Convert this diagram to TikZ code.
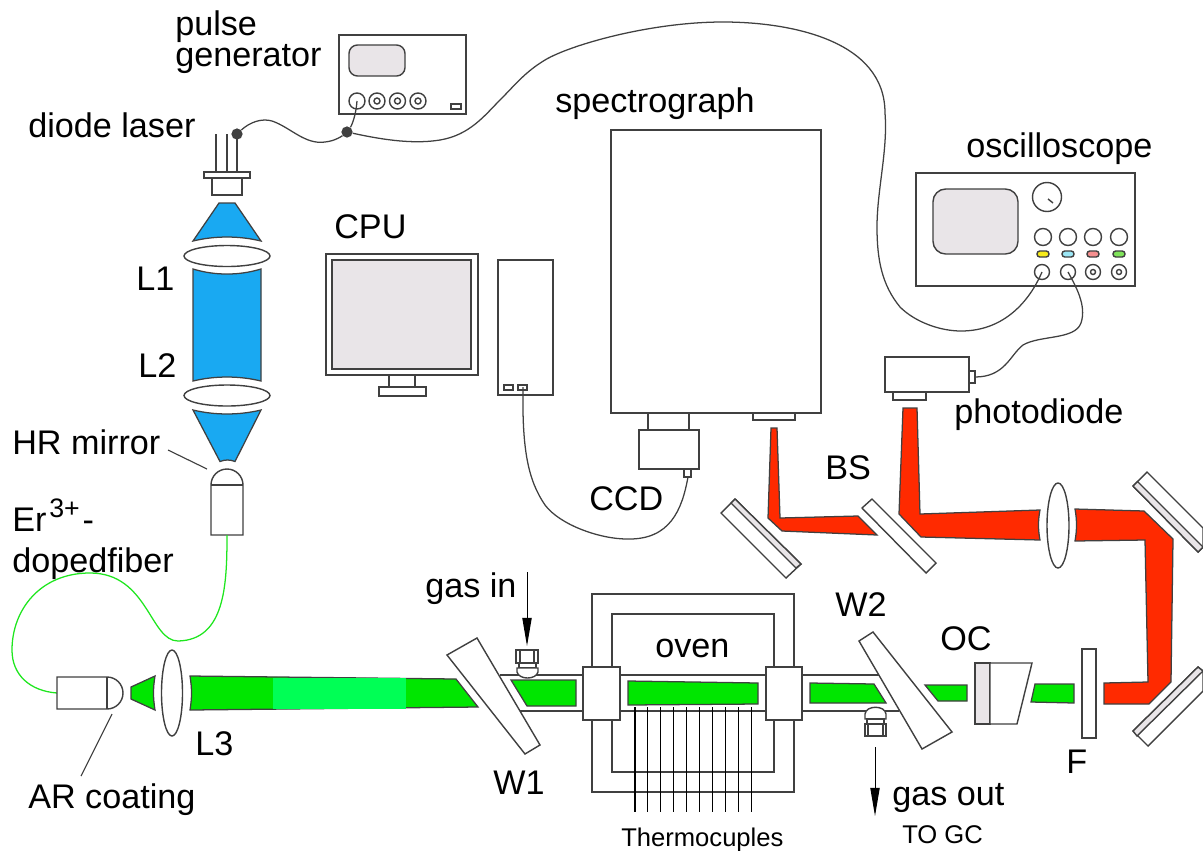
\documentclass[tikz,border=0pt]{standalone}
\usepackage{fontspec}
\setmainfont{Liberation Sans}
\usetikzlibrary{arrows.meta}
\definecolor{cline}{HTML}{404040}
\definecolor{cblue}{HTML}{19A9F2}
\definecolor{cgreen}{HTML}{00E600}
\definecolor{clight}{HTML}{00FF55}
\definecolor{cred}{HTML}{FF2A00}
\definecolor{cfiber}{HTML}{1EE61E}
\definecolor{cscreen}{HTML}{E9E5E8}
\tikzset{
  part/.style={draw=cline, line width=1pt, fill=white},
  screen/.style={part, fill=cscreen, rounded corners=6pt},
  beam/.style={draw=cline, line width=0.9pt, fill=#1},
  beam/.default=cgreen,
  cable/.style={draw=cline, line width=0.9pt},
  fiber/.style={draw=cfiber, line width=0.9pt},
  leader/.style={draw=cline, line width=0.8pt},
  flow/.style={-{Stealth[length=20pt, width=6.6pt, inset=0pt]}, draw=black, line width=0.7pt},
  dot/.style={circle, fill=cline, inner sep=0pt, minimum size=8pt},
  label/.style={font=\fontsize{24.3}{29}\selectfont, inner sep=0pt, anchor=base west, xshift=-0.7pt},
  small/.style={label, font=\fontsize{18.2}{22}\selectfont},
}
\begin{document}
\begin{tikzpicture}[x=0.025cm, y=-0.025cm]
  \useasboundingbox (0,0) rectangle (1203,850);
  % pulse generator
  \draw[part] (339,35) rectangle (466,114);
  \draw[screen] (349,45) rectangle (405,76);
  \draw[part] (357,101) circle [radius=8];
  \foreach \x in {377,397.5,418} {
    \draw[part] (\x,101) circle [radius=8];
    \draw[part] (\x,101) circle [radius=3];
  }
  \draw[part] (451,104) rectangle (461,109);
  % diode laser
  \foreach \x in {216,227,237} \draw[part] (\x,134) -- (\x,172);
  \draw[part] (204,172) rectangle (250,178);
  \draw[part] (212,178) rectangle (242,195);
  \coordinate (pgknob) at (357,101);
  \node[dot] (laserdot) at (237,134) {};
  \node[dot] (pgdot) at (347,132) {};
  \draw[cable] (laserdot) .. controls (250,122) and (262,118) .. (272,121) .. controls (290,127) and (305,145) .. (325,142) .. controls (335,141) and (342,136) .. (pgdot);
  \draw[cable] (pgknob) .. controls (356,115) and (352,125) .. (pgdot);
  % blue beam and lenses
  \draw[beam=cblue] (219,203) -- (235,203) -- (261,241) .. controls (239,235.7) and (215,235.7) .. (193,241) -- cycle;
  \draw[part] (227,256) ellipse [x radius=43, y radius=10.5];
  \draw[beam=cblue] (193,269) .. controls (215,275.7) and (239,275.7) .. (261,269) -- (261,381) .. controls (239,375.7) and (215,375.7) .. (193,381) -- cycle;
  \draw[part] (227,395.5) ellipse [x radius=43, y radius=10.5];
  \draw[beam=cblue] (193,410) .. controls (215,415.3) and (239,415.3) .. (261,410) -- (235,461.5) .. controls (230,459.5) and (225,459.5) .. (220,461.5) -- cycle;
  % HR mirror and fiber
  \draw[leader] (168,450) -- (207,469);
  \draw[part] (211,485) arc [start angle=180, end angle=360, radius=16] -- (243,535) -- (211,535) -- cycle;
  \draw[part] (211,485) -- (243,485);
  \coordinate (hrend) at (227,535);
  \coordinate (arend) at (57,693);
  \draw[fiber] (hrend) .. controls (227,585) and (225,640) .. (178,641) .. controls (150,641) and (148,573) .. (90,573) .. controls (40,573) and (12,610) .. (12,650) .. controls (12,675) and (30,691) .. (arend);
  % AR coated end
  \draw[part] (107,677) arc [start angle=-90, end angle=90, radius=16] -- (57,709) -- (57,677) -- cycle;
  \draw[part] (107,677) -- (107,709);
  \draw[leader] (112,714) -- (81,776);
  \draw[beam] (131,687) -- (155,676) .. controls (153,688) and (153,698) .. (155,710) -- (131,699) -- cycle;
  \draw[part] (172,693) ellipse [x radius=10.5, y radius=43];
  \draw[beam] (190,676) -- (456,679) -- (478,707) -- (190,710) .. controls (192,698) and (192,688) .. (190,676) -- cycle;
  \fill[clight] (273,677.5) rectangle (406,709);
  % tube
  \draw[part] (500,675) -- (583,675);
  \draw[part] (520,711) -- (583,711);
  \draw[part] (620,675) -- (766,675);
  \draw[part] (620,711) -- (766,711);
  \draw[part] (802,675) -- (880,675);
  \draw[part] (802,711) -- (899,711);
  \draw[part] (447,655) -- (477,638) -- (540,745) -- (525,754) -- cycle;
  % gas in
  \draw[part] (519,663) rectangle (536,668);
  \draw[part] (517,668) -- (517,672) .. controls (519,680) and (536,680) .. (538,672) -- (538,668) -- cycle;
  \draw[part] (516,650) rectangle (538,663);
  \draw[part] (520,650) -- (520,663) (534,650) -- (534,663);
  \coordinate (gasinstart) at (527,572);
  \coordinate (gasinend) at (527,646);
  \draw[flow] (gasinstart) -- (gasinend);
  \draw[beam] (511,680) -- (576,680) -- (576,706) -- (527,706) -- cycle;
  % oven
  \draw[part, fill=none] (592,594) rectangle (794,792);
  \draw[part, fill=none] (612,614) rectangle (774,772);
  \draw[part] (583,667) rectangle (620,720);
  \draw[part] (766,667) rectangle (802,720);
  \draw[beam] (628,681) -- (758,683) -- (758,704) -- (628,705) -- cycle;
  \foreach \i in {0,...,9} \draw[black, line width=0.8pt] (635+12.9*\i,707) -- (635+12.9*\i,812);
  % gas out
  \draw[beam] (810,683) -- (874,684) -- (886,703) -- (810,703) -- cycle;
  \draw[part] (859,641) -- (873,632) -- (952,732) -- (922,749) -- cycle;
  \draw[part] (865,719) -- (865,714) .. controls (866,705) and (885,705) .. (886,714) -- (886,719) -- cycle;
  \draw[part] (867,719) rectangle (884,724);
  \draw[part] (865,724) rectangle (886,736);
  \draw[part] (868,724) -- (868,736) (883,724) -- (883,736);
  \coordinate (gasoutstart) at (875,747);
  \coordinate (gasoutend) at (875,816);
  \draw[flow] (gasoutstart) -- (gasoutend);
  % output coupler, filter
  \draw[beam] (925,685) -- (967,685) -- (967,701) -- (938,701) -- cycle;
  \draw[part, fill=cscreen] (975,663) rectangle (990,724);
  \draw[part] (990,663) -- (1032,663) -- (1017,724) -- (990,724) -- cycle;
  \draw[beam] (1035,684) -- (1074,684) -- (1074,703) -- (1031,702) -- cycle;
  \draw[part] (1082,649) rectangle (1096,738);
  % red beam
  \draw[beam=cred] (1104,683) -- (1148,682) -- (1145,540) -- (1075,541) .. controls (1077,530) and (1077,520) .. (1075,509) -- (1144,511) -- (1173,539) -- (1171,682) -- (1149,704) -- (1104,704) -- cycle;
  \draw[part] (1058,525.5) ellipse [x radius=11, y radius=42.5];
  \draw[beam=cred] (903,408) -- (917,408) -- (920,514) -- (1040,510) .. controls (1038,520) and (1038,530) .. (1040,540) -- (921,537) -- (899,514) -- cycle;
  \draw[beam=cred] (771,428) -- (777,428) -- (780,518) -- (858,516) -- (877,535) -- (782,531) -- (768,518) -- cycle;
  % mirrors
  \draw[part] (721,513) -- (735,499) -- (801,564) -- (786,578) -- cycle;
  \draw[part, fill=cscreen] (731,503) -- (735,499) -- (801,564) -- (796,568) -- cycle;
  \draw[part] (862,508) -- (872,499) -- (936,563) -- (926,573) -- cycle;
  \draw[part] (1133,486) -- (1147,472) -- (1203,528) -- (1203,547) -- (1198,552) -- cycle;
  \draw[part, fill=cscreen] (1133,486) -- (1137.5,481.5) -- (1203,547) -- (1198,552) -- cycle;
  \draw[part] (1133,731) -- (1198,667) -- (1203,671) -- (1203,691) -- (1148,746) -- cycle;
  \draw[part, fill=cscreen] (1133,731) -- (1198,667) -- (1203,671) -- (1137,736) -- cycle;
  % CPU
  \draw[part] (389,375) -- (389,387) (415,375) -- (415,387);
  \draw[part] (379,387) rectangle (426,396);
  \draw[part] (326,254) rectangle (478,375);
  \draw[part, fill=cscreen] (332,260) rectangle (471,369);
  \draw[part] (498,260) rectangle (553,395);
  \draw[part] (504,385) rectangle (513,390);
  \draw[part] (518,385) rectangle (527,390);
  % spectrograph
  \draw[part] (611,130) rectangle (821,413);
  \draw[part] (753,413) rectangle (795,420);
  \draw[part] (648,413) -- (648,430) (689,413) -- (689,430);
  \draw[part] (639,430) rectangle (699,469);
  \draw[part] (684,469) rectangle (691,477);
  \coordinate (pcport) at (523,387);
  \coordinate (ccdplug) at (688,477);
  \draw[cable] (pcport) .. controls (522,450) and (528,480) .. (545,505) .. controls (560,525) and (600,539) .. (627,539) .. controls (670,540) and (682,510) .. (ccdplug);
  % oscilloscope
  \draw[part] (916,173) rectangle (1135,286);
  \draw[screen, rounded corners=9pt] (933,189) rectangle (1018,254);
  \draw[part] (1047,197) circle [radius=14.5];
  \draw[part] (1048,199) -- (1053,203);
  \foreach \x/\c in {1043/F7EB1A,1068/9BE6F5,1093/F58F8F,1119/7FE35A} {
    \definecolor{ctag}{HTML}{\c}
    \draw[part] (\x,237) circle [radius=8.5];
    \draw[part, fill=ctag, rounded corners=2pt] (\x-6,251) rectangle (\x+6,257);
  }
  \foreach \x in {1042,1068,1093,1119} \draw[part] (\x,272) circle [radius=7.5];
  \foreach \x in {1093,1119} \draw[part] (\x,272) circle [radius=2.5];
  % photodiode
  \draw[part] (885,357) rectangle (969,392);
  \draw[part] (893,392) rectangle (926,400);
  \draw[part] (969,371) rectangle (975,383);
  % long cables
  \coordinate (scopeA) at (1042,272);
  \coordinate (scopeB) at (1068,272);
  \coordinate (pdplug) at (975,377);
  \draw[cable] (pgdot) .. controls (375,138) and (410,145) .. (440,140) .. controls (470,135) and (485,115) .. (500,100) .. controls (515,85) and (525,72) .. (545,60) .. controls (570,45) and (650,22) .. (723,22) .. controls (790,22) and (885,40) .. (885,113) .. controls (888,150) and (877,190) .. (877,227) .. controls (877,260) and (882,285) .. (900,307) .. controls (915,322) and (940,331) .. (961,331) .. controls (1005,331) and (1030,300) .. (scopeA);
  \draw[cable] (scopeB) .. controls (1075,285) and (1087,305) .. (1081,323) .. controls (1075,340) and (1040,335) .. (1023,345) .. controls (1010,355) and (1005,377) .. (pdplug);
  % labels
  \node[label, align=left, font=\fontsize{24.3}{22.2}\selectfont] (pulsetxt) at (176,66.5) {pulse\\generator};
  \node[label] (lasertxt) at (29,137) {diode laser};
  \node[label] (cputxt) at (335,238) {CPU};
  \node[label] (spectxt) at (556,112) {spectrograph};
  \node[label] (scopetxt) at (967,157) {oscilloscope};
  \node[label] (pdtxt) at (955,423) {photodiode};
  \node[label] (bstxt) at (826,479) {BS};
  \node[label] (ccdtxt) at (590,510) {CCD};
  \node[label] (ltxtA) at (137,290) {L1};
  \node[label] (ltxtB) at (139,377) {L2};
  \node[label] (ltxtC) at (196,755) {L3};
  \node[label] (hrtxt) at (13,454) {HR mirror};
  \node[label, align=left] (ertxt) at (13,572) {Er\kern 2pt\raisebox{10pt}{\fontsize{19}{19}\selectfont 3+}\kern 2pt-\\dopedfiber};
  \node[label] (artxt) at (29,808) {AR coating};
  \node[label] (gasintxt) at (426,597) {gas in};
  \node[label] (wtxtA) at (494,794) {W1};
  \node[label] (oventxt) at (656,657) {oven};
  \node[label] (wtxtB) at (836,616) {W2};
  \node[label] (octxt) at (941,650) {OC};
  \node[label] (ftxt) at (1067,773) {F};
  \node[label] (gasouttxt) at (893,805) {gas out};
  \node[small] (gctxt) at (903,843) {TO GC};
  \node[small] (tctxt) at (622,846) {Thermocuples};
\end{tikzpicture}
\end{document}
